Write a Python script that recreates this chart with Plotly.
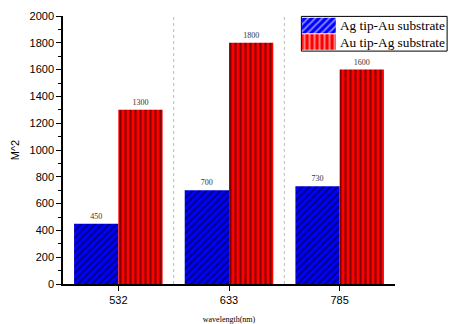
import plotly.graph_objects as go

wavelengths = ["532", "633", "785"]
ag_tip_au_sub = [450, 700, 730]
au_tip_ag_sub = [1300, 1800, 1600]
series_names = ["Ag tip-Au substrate", "Au tip-Ag substrate"]
series_colors = ["#0000ff", "#ff0000"]
series_hatch = ["/", "|"]

serif = "Times New Roman, Liberation Serif"
sans = "Arial, Liberation Sans"
label_font = dict(family=serif, size=8, color="#333")

fig = go.Figure()
for name, vals, col, hatch in zip(series_names, [ag_tip_au_sub, au_tip_ag_sub],
                                  series_colors, series_hatch):
    fig.add_trace(go.Bar(
        x=wavelengths, y=vals, name=name, showlegend=False,
        marker=dict(color=col, line=dict(width=0),
                    pattern=dict(shape=hatch, fgcolor="black", bgcolor=col,
                                 size=5, solidity=0.4)),
        text=[str(v) for v in vals], textposition="outside",
        textfont=label_font, cliponaxis=False,
    ))

# legend swatches: one small patterned bar per series on an inset axis
fig.add_trace(go.Bar(
    y=[1, 0], x=[1, 1], orientation="h", width=0.94,
    xaxis="x2", yaxis="y2", showlegend=False, hoverinfo="skip",
    marker=dict(color=series_colors, line=dict(width=0),
                pattern=dict(shape=series_hatch, fgcolor="black", bgcolor=series_colors,
                             size=5, solidity=0.4)),
))

# dotted separators between wavelength groups
for xsep in [0.5, 1.5]:
    fig.add_shape(type="line", xref="x", yref="paper", x0=xsep, x1=xsep, y0=0, y1=1,
                  line=dict(color="#bbbbbb", width=1, dash="dot"), layer="below")

# legend frame and entries
fig.add_shape(type="rect", xref="paper", yref="paper", x0=0.718, x1=1.157, y0=0.869, y1=0.9985,
              line=dict(color="black", width=1), fillcolor="rgba(0,0,0,0)", layer="above")
for i, name in enumerate(series_names):
    fig.add_annotation(xref="paper", yref="paper", x=0.829, y=0.965 - i * 0.063,
                       xanchor="left", yanchor="middle", showarrow=False, text=name,
                       font=dict(family=serif, size=13.3, color="black"))

fig.update_layout(
    width=450, height=324,
    margin=dict(l=63, r=55, t=16, b=40, autoexpand=False),
    plot_bgcolor="white", paper_bgcolor="white",
    barmode="group", bargap=0.2, bargroupgap=0,
    showlegend=False,
    font=dict(family=sans, color="black"),
    xaxis=dict(
        type="category", range=[-0.5, 2.5],
        showline=True, linecolor="black", linewidth=1.5,
        ticks="outside", ticklen=5, tickcolor="black",
        tickfont=dict(family=sans, size=11, color="black"),
        showgrid=False, zeroline=False,
        title=dict(text="wavelength(nm)", standoff=12,
                   font=dict(family=serif, size=8, color="black")),
    ),
    yaxis=dict(
        range=[0, 2000], dtick=200,
        showline=True, linecolor="black", linewidth=1.5,
        ticks="outside", ticklen=5, tickcolor="black",
        minor=dict(ticks="outside", ticklen=3, dtick=100, tickcolor="black"),
        tickfont=dict(family=sans, size=11, color="black"),
        showgrid=False, zeroline=False,
        title=dict(text="M^2", standoff=8,
                   font=dict(family=sans, size=11, color="black")),
    ),
    xaxis2=dict(domain=[0.72, 0.822], anchor="y2", range=[0, 1], visible=False, fixedrange=True),
    yaxis2=dict(domain=[0.872, 0.995], anchor="x2", range=[-0.5, 1.5], visible=False, fixedrange=True),
)

fig.write_html("out.html")
